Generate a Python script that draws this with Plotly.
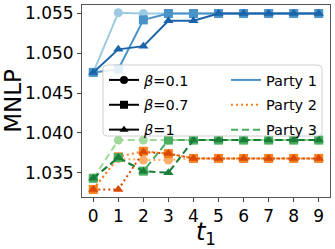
import plotly.graph_objects as go

t1_vals = list(range(10))
betas = ["0.1", "0.7", "1"]
p1_b01 = [1.0476, 1.0551, 1.0550, 1.0550, 1.0550, 1.0550, 1.0550, 1.0550, 1.0550, 1.0550]
p1_b07 = [1.0476, 1.0480, 1.0542, 1.0550, 1.0550, 1.0550, 1.0550, 1.0550, 1.0550, 1.0550]
p1_b1 = [1.0476, 1.0505, 1.0509, 1.0541, 1.0541, 1.0550, 1.0550, 1.0550, 1.0550, 1.0550]
p2_b01 = [1.0329, 1.0368, 1.0366, 1.0366, 1.0368, 1.0368, 1.0368, 1.0368, 1.0368, 1.0368]
p2_b07 = [1.0329, 1.0370, 1.0377, 1.0374, 1.0368, 1.0368, 1.0368, 1.0368, 1.0368, 1.0368]
p2_b1 = [1.0329, 1.0329, 1.0376, 1.0374, 1.0368, 1.0368, 1.0368, 1.0368, 1.0368, 1.0368]
p3_b01 = [1.0343, 1.0391, 1.0391, 1.0391, 1.0391, 1.0391, 1.0391, 1.0391, 1.0391, 1.0391]
p3_b07 = [1.0343, 1.0369, 1.0352, 1.0391, 1.0391, 1.0391, 1.0391, 1.0391, 1.0391, 1.0391]
p3_b1 = [1.0343, 1.0369, 1.0352, 1.0350, 1.0391, 1.0391, 1.0391, 1.0391, 1.0391, 1.0391]
y_ticks = [1.035, 1.040, 1.045, 1.050, 1.055]

parties = [
    ("Party 1", [p1_b01, p1_b07, p1_b1], ["#9ecae1", "#4a93c8", "#1c64aa"], "solid", "#4a93c8"),
    ("Party 2", [p2_b01, p2_b07, p2_b1], ["#fdae6b", "#f5821f", "#d94801"], "2px,3px", "#f5821f"),
    ("Party 3", [p3_b01, p3_b07, p3_b1], ["#a1d99b", "#4aae60", "#1b7d3a"], "7px,4px", "#4aae60"),
]
symbols = ["circle", "square", "triangle-up"]

fig = go.Figure()
for name, series, colors, dash, _ in parties:
    for vals, col, sym in zip(series, colors, symbols):
        fig.add_trace(go.Scatter(
            x=t1_vals, y=vals, mode="lines+markers", showlegend=False,
            line=dict(color=col, width=2, dash=dash),
            marker=dict(symbol=sym, size=9, color=col),
        ))

# legend entries
for b, sym in zip(betas, symbols):
    fig.add_trace(go.Scatter(
        x=[None], y=[None], mode="lines+markers", name=f"<i>β</i>={b}",
        line=dict(color="black", width=2), marker=dict(symbol=sym, size=8, color="black"),
        legend="legend", legendgroup="b" + b,
    ))
for name, _, _, dash, lcol in parties:
    fig.add_trace(go.Scatter(
        x=[None], y=[None], mode="lines", name=name,
        line=dict(color=lcol, width=2, dash=dash),
        legend="legend2", legendgroup=name,
    ))

W, H = 335, 249
l, r, t, b = 82, 5, 5, 52
pw, ph = W - l - r, H - t - b

def px(xp):
    return (xp - l) / pw

def py(yp):
    return 1 - (yp - t) / ph

x0, x1, y0, y1 = px(103), px(322), py(136), py(65)
rx, ry = 4 / pw, 4 / ph
path = (f"M {x0+rx},{y1} L {x1-rx},{y1} Q {x1},{y1} {x1},{y1-ry} "
        f"L {x1},{y0+ry} Q {x1},{y0} {x1-rx},{y0} L {x0+rx},{y0} "
        f"Q {x0},{y0} {x0},{y0+ry} L {x0},{y1-ry} Q {x0},{y1} {x0+rx},{y1} Z")
fig.add_shape(type="path", path=path, xref="paper", yref="paper",
              fillcolor="rgba(255,255,255,0.85)", line=dict(color="#d0d0d0", width=1),
              layer="above")

font = "DejaVu Sans, sans-serif"
fig.update_layout(
    width=W, height=H, margin=dict(l=l, r=r, t=t, b=b, autoexpand=False),
    paper_bgcolor="white", plot_bgcolor="white",
    font=dict(family=font, color="black"),
    legend=dict(x=px(104), y=py(64), xanchor="left", yanchor="top",
                bgcolor="rgba(0,0,0,0)", font=dict(size=14.5), tracegroupgap=3,
                itemwidth=30),
    legend2=dict(x=px(226), y=py(64), xanchor="left", yanchor="top",
                 bgcolor="rgba(0,0,0,0)", font=dict(size=14.5), tracegroupgap=3,
                 itemwidth=30),
    xaxis=dict(range=[-0.45, 9.45], tickvals=t1_vals, ticks="outside", ticklen=4,
               tickfont=dict(size=17), showline=True, linecolor="#555", mirror=True,
               showgrid=False, zeroline=False, automargin=False,
               title=dict(text="<i>t</i><sub>1</sub>", font=dict(size=24), standoff=0)),
    yaxis=dict(range=[1.03195, 1.05607], tickvals=y_ticks,
               ticktext=[f"{v:.3f}" for v in y_ticks], ticks="outside", ticklen=4,
               tickfont=dict(size=17), showline=True, linecolor="#555", mirror=True,
               showgrid=False, zeroline=False, automargin=False,
               title=dict(text="MNLP", font=dict(size=23), standoff=4)),
)

fig.write_html("out.html", config={"displayModeBar": False},
               post_script="document.body.style.margin='0';")
